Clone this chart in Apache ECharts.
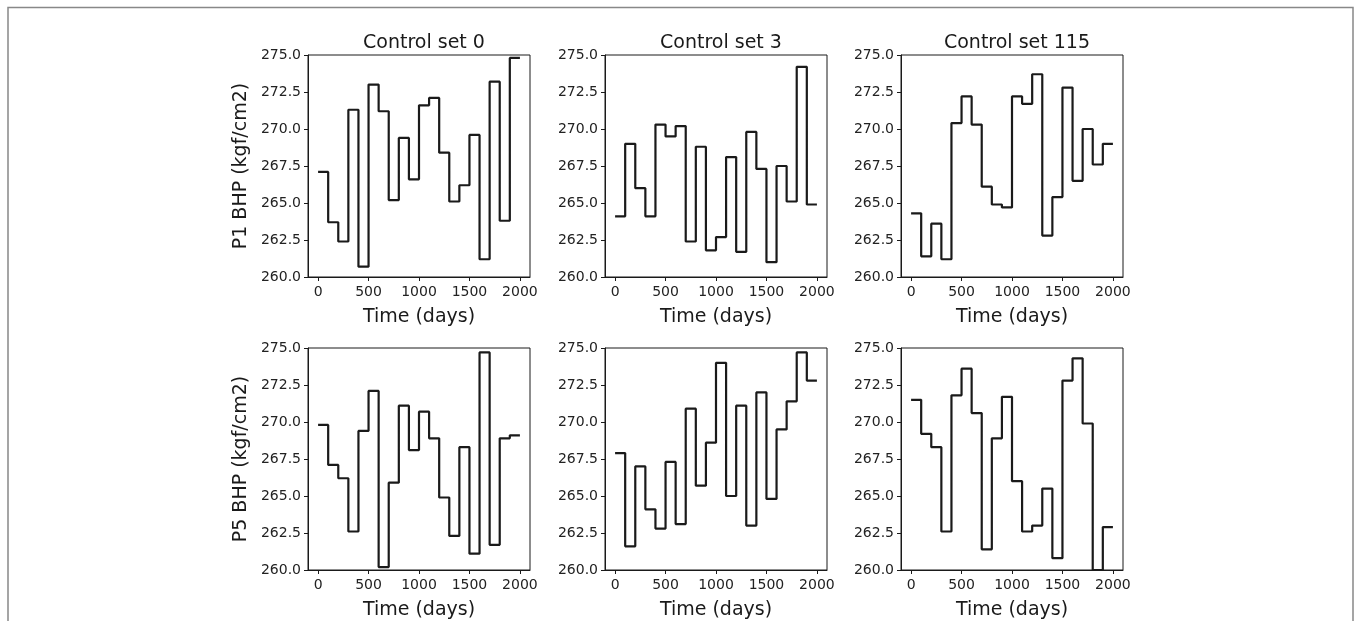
<!DOCTYPE html>
<html>
<head>
<meta charset="utf-8">
<script src="https://cdn.jsdelivr.net/npm/echarts@6/dist/echarts.min.js"></script>
<style>
  html, body { margin: 0; padding: 0; background: #fff; }
  #chart { width: 1356px; height: 621px; }
</style>
</head>
<body>
<div id="chart"></div>
<script>
// step start times (days), the last one closes the final step
const stepTimes = [0, 100, 200, 300, 400, 500, 600, 700, 800, 900, 1000,
  1100, 1200, 1300, 1400, 1500, 1600, 1700, 1800, 1900, 2000]
const xTicks = [0, 500, 1000, 1500, 2000]
const controlSets = ['Control set 0', 'Control set 3', 'Control set 115']
const wells = ['P1 BHP (kgf/cm2)', 'P5 BHP (kgf/cm2)']

// BHP per 100-day control step
const p1Set0 = [267.1, 263.7, 262.4, 271.3, 260.7, 273.0, 271.2, 265.2, 269.4, 266.6,
  271.6, 272.1, 268.4, 265.1, 266.2, 269.6, 261.2, 273.2, 263.8, 274.8]
const p1Set3 = [264.1, 269.0, 266.0, 264.1, 270.3, 269.5, 270.2, 262.4, 268.8, 261.8,
  262.7, 268.1, 261.7, 269.8, 267.3, 261.0, 267.5, 265.1, 274.2, 264.9]
const p1Set115 = [264.3, 261.4, 263.6, 261.2, 270.4, 272.2, 270.3, 266.1, 264.9, 264.7,
  272.2, 271.7, 273.7, 262.8, 265.4, 272.8, 266.5, 270.0, 267.6, 269.0]
const p5Set0 = [269.8, 267.1, 266.2, 262.6, 269.4, 272.1, 260.2, 265.9, 271.1, 268.1,
  270.7, 268.9, 264.9, 262.3, 268.3, 261.1, 274.7, 261.7, 268.9, 269.1]
const p5Set3 = [267.9, 261.6, 267.0, 264.1, 262.8, 267.3, 263.1, 270.9, 265.7, 268.6,
  274.0, 265.0, 271.1, 263.0, 272.0, 264.8, 269.5, 271.4, 274.7, 272.8]
const p5Set115 = [271.5, 269.2, 268.3, 262.6, 271.8, 273.6, 270.6, 261.4, 268.9, 271.7,
  266.0, 262.6, 263.0, 265.5, 260.8, 272.8, 274.3, 269.9, 260.0, 262.9]

const panels = [p1Set0, p1Set3, p1Set115, p5Set0, p5Set3, p5Set115]

const font = 'DejaVu Sans'
const ink = '#1a1a1a'
const colLeft = [308, 605, 901]
const rowTop = [55, 348]
const boxW = 222
const boxH = 222

const toSteps = (vals) => {
  const pts = vals.map((v, i) => [stepTimes[i], v])
  pts.push([stepTimes[vals.length], vals[vals.length - 1]])
  return pts
}

const grids = [], xAxes = [], yAxes = [], series = [], titles = []
panels.forEach((vals, i) => {
  const row = Math.floor(i / 3)
  const col = i % 3
  grids.push({
    left: colLeft[col], top: rowTop[row], width: boxW, height: boxH,
    show: true, borderColor: ink, borderWidth: 1, backgroundColor: 'transparent'
  })
  xAxes.push({
    type: 'value', gridIndex: i, min: -100, max: 2100,
    name: 'Time (days)', nameLocation: 'middle', nameGap: 31,
    nameTextStyle: {fontFamily: font, fontSize: 19, color: ink},
    axisLine: {show: true, onZero: false, lineStyle: {color: ink, width: 1}},
    axisTick: {show: true, length: 4, lineStyle: {color: ink}, customValues: xTicks},
    axisLabel: {
      fontFamily: font, fontSize: 14, color: '#222', margin: 8,
      customValues: xTicks, formatter: (v) => String(v)
    },
    splitLine: {show: false}
  })
  yAxes.push({
    type: 'value', gridIndex: i, min: 260, max: 275, interval: 2.5,
    name: col === 0 ? wells[row] : '', nameLocation: 'middle', nameGap: 57,
    nameTextStyle: {fontFamily: font, fontSize: 19, color: ink},
    axisLine: {show: true, onZero: false, lineStyle: {color: ink, width: 1}},
    axisTick: {show: true, length: 4, lineStyle: {color: ink}},
    axisLabel: {
      fontFamily: font, fontSize: 14, color: '#222', margin: 7,
      formatter: (v) => v.toFixed(1)
    },
    splitLine: {show: false}
  })
  series.push({
    type: 'line', xAxisIndex: i, yAxisIndex: i,
    step: 'end', showSymbol: false, symbol: 'none',
    data: toSteps(vals),
    lineStyle: {color: ink, width: 2.2},
    animation: false
  })
  if (row === 0) {
    titles.push({
      text: controlSets[col],
      left: colLeft[col] + boxW / 2, top: 29, textAlign: 'center',
      textStyle: {fontFamily: font, fontSize: 19, fontWeight: 'normal', color: ink}
    })
  }
})

const chart = echarts.init(document.getElementById('chart'))
chart.setOption({
  animation: false,
  title: titles,
  grid: grids,
  xAxis: xAxes,
  yAxis: yAxes,
  series,
  graphic: [{
    type: 'polyline',
    shape: {points: [[8, 622], [8, 7.5], [1353, 7.5], [1353, 622]]},
    style: {stroke: '#888', lineWidth: 1.5, fill: null},
    silent: true
  }]
})
</script>
</body>
</html>
